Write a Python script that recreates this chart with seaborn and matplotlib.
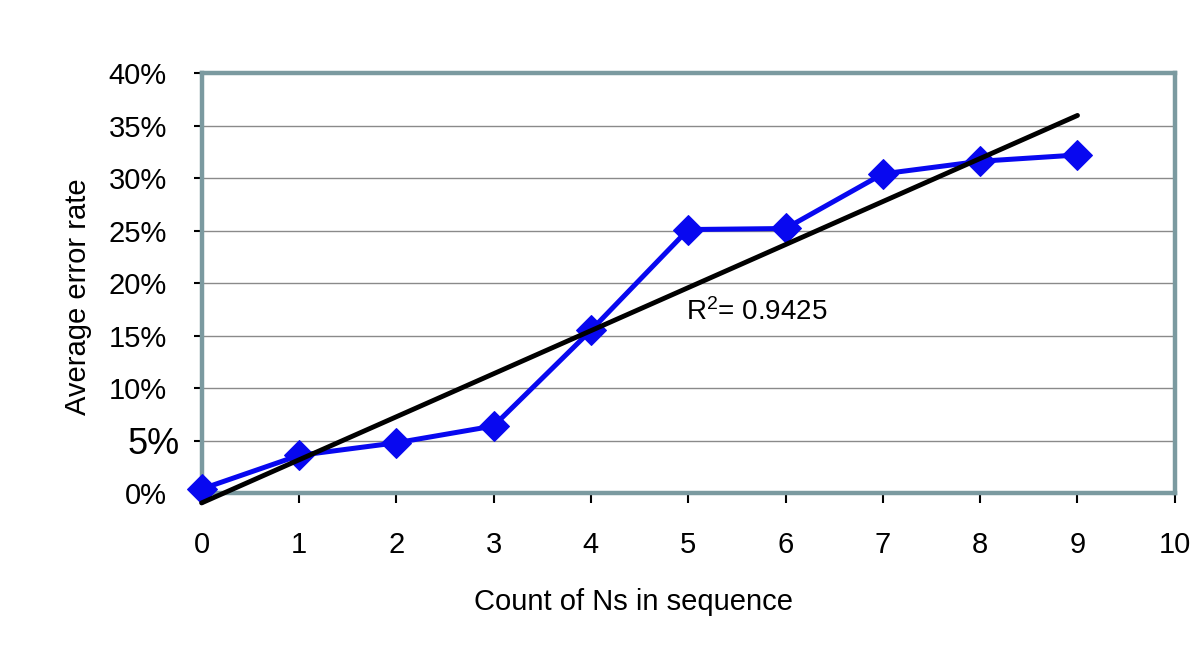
import matplotlib
matplotlib.use("Agg")
import matplotlib.pyplot as plt
import seaborn as sns
import numpy as np
import pandas as pd

# ---- data ----
n_counts = [0, 1, 2, 3, 4, 5, 6, 7, 8, 9]
error_rate = [0.004, 0.036, 0.048, 0.064, 0.155, 0.251, 0.252, 0.304, 0.316, 0.322]
y_ticks = [0.0, 0.05, 0.10, 0.15, 0.20, 0.25, 0.30, 0.35, 0.40]
y_tick_labels = ["0%", "5%", "10%", "15%", "20%", "25%", "30%", "35%", "40%"]
x_ticks = [0, 1, 2, 3, 4, 5, 6, 7, 8, 9, 10]
r2_text = "R$^{2}$= 0.9425"

df = pd.DataFrame({"n": n_counts, "err": error_rate})

sns.set_theme(style="white")
plt.rcParams["font.family"] = ["Liberation Sans", "DejaVu Sans"]
plt.rcParams["mathtext.fontset"] = "custom"
plt.rcParams["mathtext.rm"] = "Liberation Sans"
plt.rcParams["mathtext.it"] = "Liberation Sans"
plt.rcParams["text.color"] = "black"
plt.rcParams["axes.labelcolor"] = "black"
plt.rcParams["xtick.color"] = "black"
plt.rcParams["ytick.color"] = "black"

fig = plt.figure(figsize=(12, 6.49), dpi=100)
ax = fig.add_axes([0.168, 0.240, 0.811, 0.6475])

frame_col = "#7b9aa0"
blue = "#0808f0"

ax.set_xlim(0, 10)
ax.set_ylim(0, 0.40)

# gridlines
ax.set_yticks(y_ticks)
ax.yaxis.grid(True, color="#8a8a8a", linewidth=1.0)
ax.xaxis.grid(False)
ax.set_axisbelow(True)

sns.lineplot(data=df, x="n", y="err", ax=ax, color=blue, linewidth=3.6,
             marker="D", markersize=15.5, markeredgecolor=blue,
             clip_on=False, zorder=3)
sns.regplot(data=df, x="n", y="err", ax=ax, scatter=False, ci=None,
            truncate=True, color="black",
            line_kws={"linewidth": 3.5, "clip_on": False, "zorder": 4})

# spines / frame
for s in ax.spines.values():
    s.set_color(frame_col)
    s.set_linewidth(3.2)
    s.set_visible(True)

ax.set_xticks(x_ticks)
ax.set_xticklabels([str(v) for v in x_ticks])
ax.set_yticklabels(y_tick_labels)
ax.tick_params(axis="x", which="major", direction="out", length=7, width=1.5,
               color="black", labelcolor="black", labelsize=21, pad=20, bottom=True)
ax.tick_params(axis="y", which="major", direction="out", length=6, width=1.5,
               color="black", labelcolor="black", labelsize=21, pad=19, left=True)
# the "5%" label is drawn larger in the original
yt = ax.yaxis.get_major_ticks()
yt[1].label1.set_fontsize(26)
yt[1].set_pad(9.5)

ax.set_xlabel("Count of Ns in sequence", fontsize=21, color="black")
ax.set_ylabel("Average error rate", fontsize=21, color="black")
ax.xaxis.set_label_coords(0.444, -0.226)
ax.yaxis.set_label_coords(-0.113, 0.467)

ax.text(4.98, 0.165, r2_text, fontsize=20, ha="left", va="baseline",
        color="black", zorder=5)

fig.savefig("out.png", dpi=100, facecolor="white")
